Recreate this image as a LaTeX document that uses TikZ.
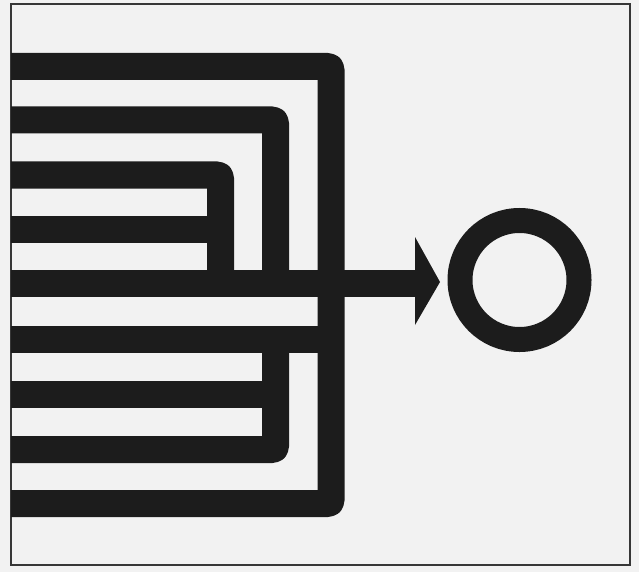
\documentclass[tikz,border=0pt]{standalone}
\definecolor{ink}{RGB}{28,28,28}
\definecolor{paper}{RGB}{242,242,242}
\definecolor{framec}{RGB}{55,55,55}
\begin{document}
\begin{tikzpicture}[x=1pt,y=-1pt,
  bar/.style={draw=ink, line width=27pt, rounded corners=3pt, line join=round},
  ring/.style={circle, draw=ink, line width=25pt, minimum size=119pt, inner sep=0pt, outer sep=0pt}]
\fill[paper] (0,0) rectangle (639,572);
\useasboundingbox (0,0) rectangle (639,572);
\draw[framec, line width=1.6pt] (11,4) rectangle (630,565);
% named points
\coordinate (a1) at (11,66.5);   \coordinate (c1) at (331,66.5);
\coordinate (d1) at (331,503.5); \coordinate (e1) at (11,503.5);
\coordinate (a2) at (11,120);    \coordinate (c2) at (275.5,120);  \coordinate (d2) at (275.5,283);
\coordinate (a3) at (11,175);    \coordinate (c3) at (220.5,175);  \coordinate (d3) at (220.5,283);
\coordinate (a4) at (11,229);    \coordinate (c4) at (220.5,229);
\coordinate (a5) at (11,283);    \coordinate (base) at (415,283);
\coordinate (a6) at (11,339.5);  \coordinate (c6) at (331,339.5);  \coordinate (j6) at (275.5,339.5);
\coordinate (a7) at (11,394);    \coordinate (c7) at (275.5,394);
\coordinate (c8) at (275.5,449.5); \coordinate (a8) at (11,449.5);
% bars
\draw[bar] (a1) -- (c1) -- (d1) -- (e1);
\draw[bar] (a2) -- (c2) -- (d2);
\draw[bar] (a3) -- (c3) -- (d3);
\draw[bar] (a4) -- (c4);
\draw[bar] (a6) -- (c6);
\draw[bar] (j6) -- (c8) -- (a8);
\draw[bar] (a7) -- (c7);
% arrow and ring
\node[ring] (target) at (519.5,280) {};
\draw[bar] (a5) -- (base);
\coordinate (ht) at (415,237); \coordinate (tip) at (440,282); \coordinate (hb) at (415,325);
\fill[ink] (ht) -- (tip) -- (hb) -- cycle;
\end{tikzpicture}
\end{document}
